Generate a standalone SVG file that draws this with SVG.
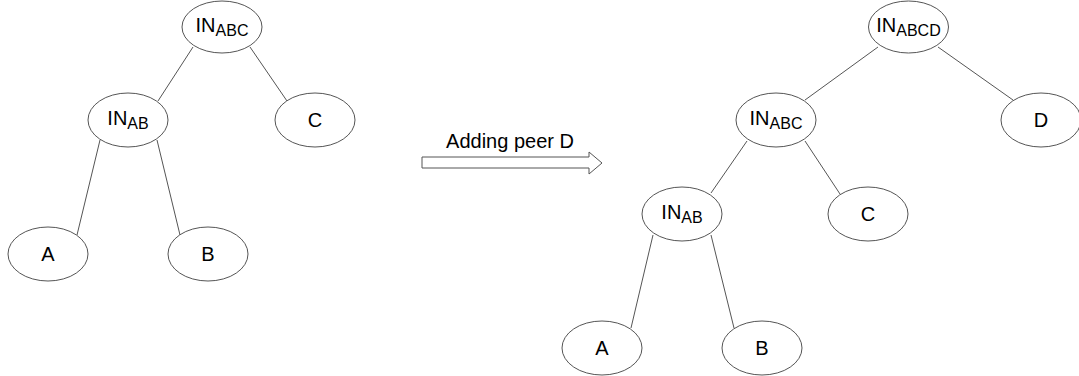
<svg xmlns="http://www.w3.org/2000/svg" width="1079" height="376" viewBox="0 0 1079 376">
<style>
.n ellipse{fill:#fff;stroke:#555;stroke-width:1}
text{font-family:"Liberation Sans",Arial,sans-serif;font-size:20px;fill:#000;text-anchor:middle}
.s{font-size:16px}
#edges line{stroke:#555;stroke-width:1}
</style>
<rect width="1079" height="376" fill="#fff"/>
<g id="edges">
<line x1="193" y1="47" x2="158" y2="101"/>
<line x1="250" y1="47" x2="287" y2="101"/>
<line x1="100" y1="140" x2="77" y2="235"/>
<line x1="157" y1="140" x2="180" y2="235"/>
<line x1="878" y1="47" x2="805" y2="100"/>
<line x1="938" y1="47" x2="1013" y2="100"/>
<line x1="747" y1="141" x2="711" y2="193"/>
<line x1="805" y1="141" x2="840" y2="194"/>
<line x1="653" y1="235" x2="631" y2="328"/>
<line x1="711" y1="235" x2="734" y2="328"/>
</g>
<g id="L_INABC" class="n"><ellipse cx="222" cy="27" rx="40" ry="26"/><text x="222" y="32">IN<tspan class="s" dy="4">ABC</tspan></text></g>
<g id="L_C" class="n"><ellipse cx="315" cy="120" rx="40" ry="27"/><text x="315" y="127">C</text></g>
<g id="L_INAB" class="n"><ellipse cx="128" cy="120" rx="40" ry="27"/><text x="128" y="125">IN<tspan class="s" dy="4">AB</tspan></text></g>
<g id="L_A" class="n"><ellipse cx="48" cy="254" rx="40" ry="27"/><text x="48" y="261">A</text></g>
<g id="L_B" class="n"><ellipse cx="208" cy="254" rx="40" ry="27"/><text x="208" y="261">B</text></g>
<g id="arrow">
<polygon points="422,157 589,157 589,152 602,163 589,174 589,168 422,168" fill="#fff" stroke="#555" stroke-width="1"/>
<text x="510" y="148">Adding peer D</text>
</g>
<g id="R_INABCD" class="n"><ellipse cx="908.5" cy="27" rx="40" ry="26"/><text x="908.5" y="32">IN<tspan class="s" dy="4">ABCD</tspan></text></g>
<g id="R_D" class="n"><ellipse cx="1041" cy="120" rx="40" ry="27"/><text x="1041" y="127">D</text></g>
<g id="R_INABC" class="n"><ellipse cx="776" cy="120" rx="40" ry="27"/><text x="776" y="125">IN<tspan class="s" dy="4">ABC</tspan></text></g>
<g id="R_C" class="n"><ellipse cx="868" cy="214" rx="40" ry="27"/><text x="868" y="221">C</text></g>
<g id="R_INAB" class="n"><ellipse cx="682" cy="214" rx="40" ry="27"/><text x="682" y="219">IN<tspan class="s" dy="4">AB</tspan></text></g>
<g id="R_A" class="n"><ellipse cx="602" cy="348" rx="40" ry="27"/><text x="602" y="355">A</text></g>
<g id="R_B" class="n"><ellipse cx="762" cy="348" rx="40" ry="27"/><text x="762" y="355">B</text></g>
</svg>
